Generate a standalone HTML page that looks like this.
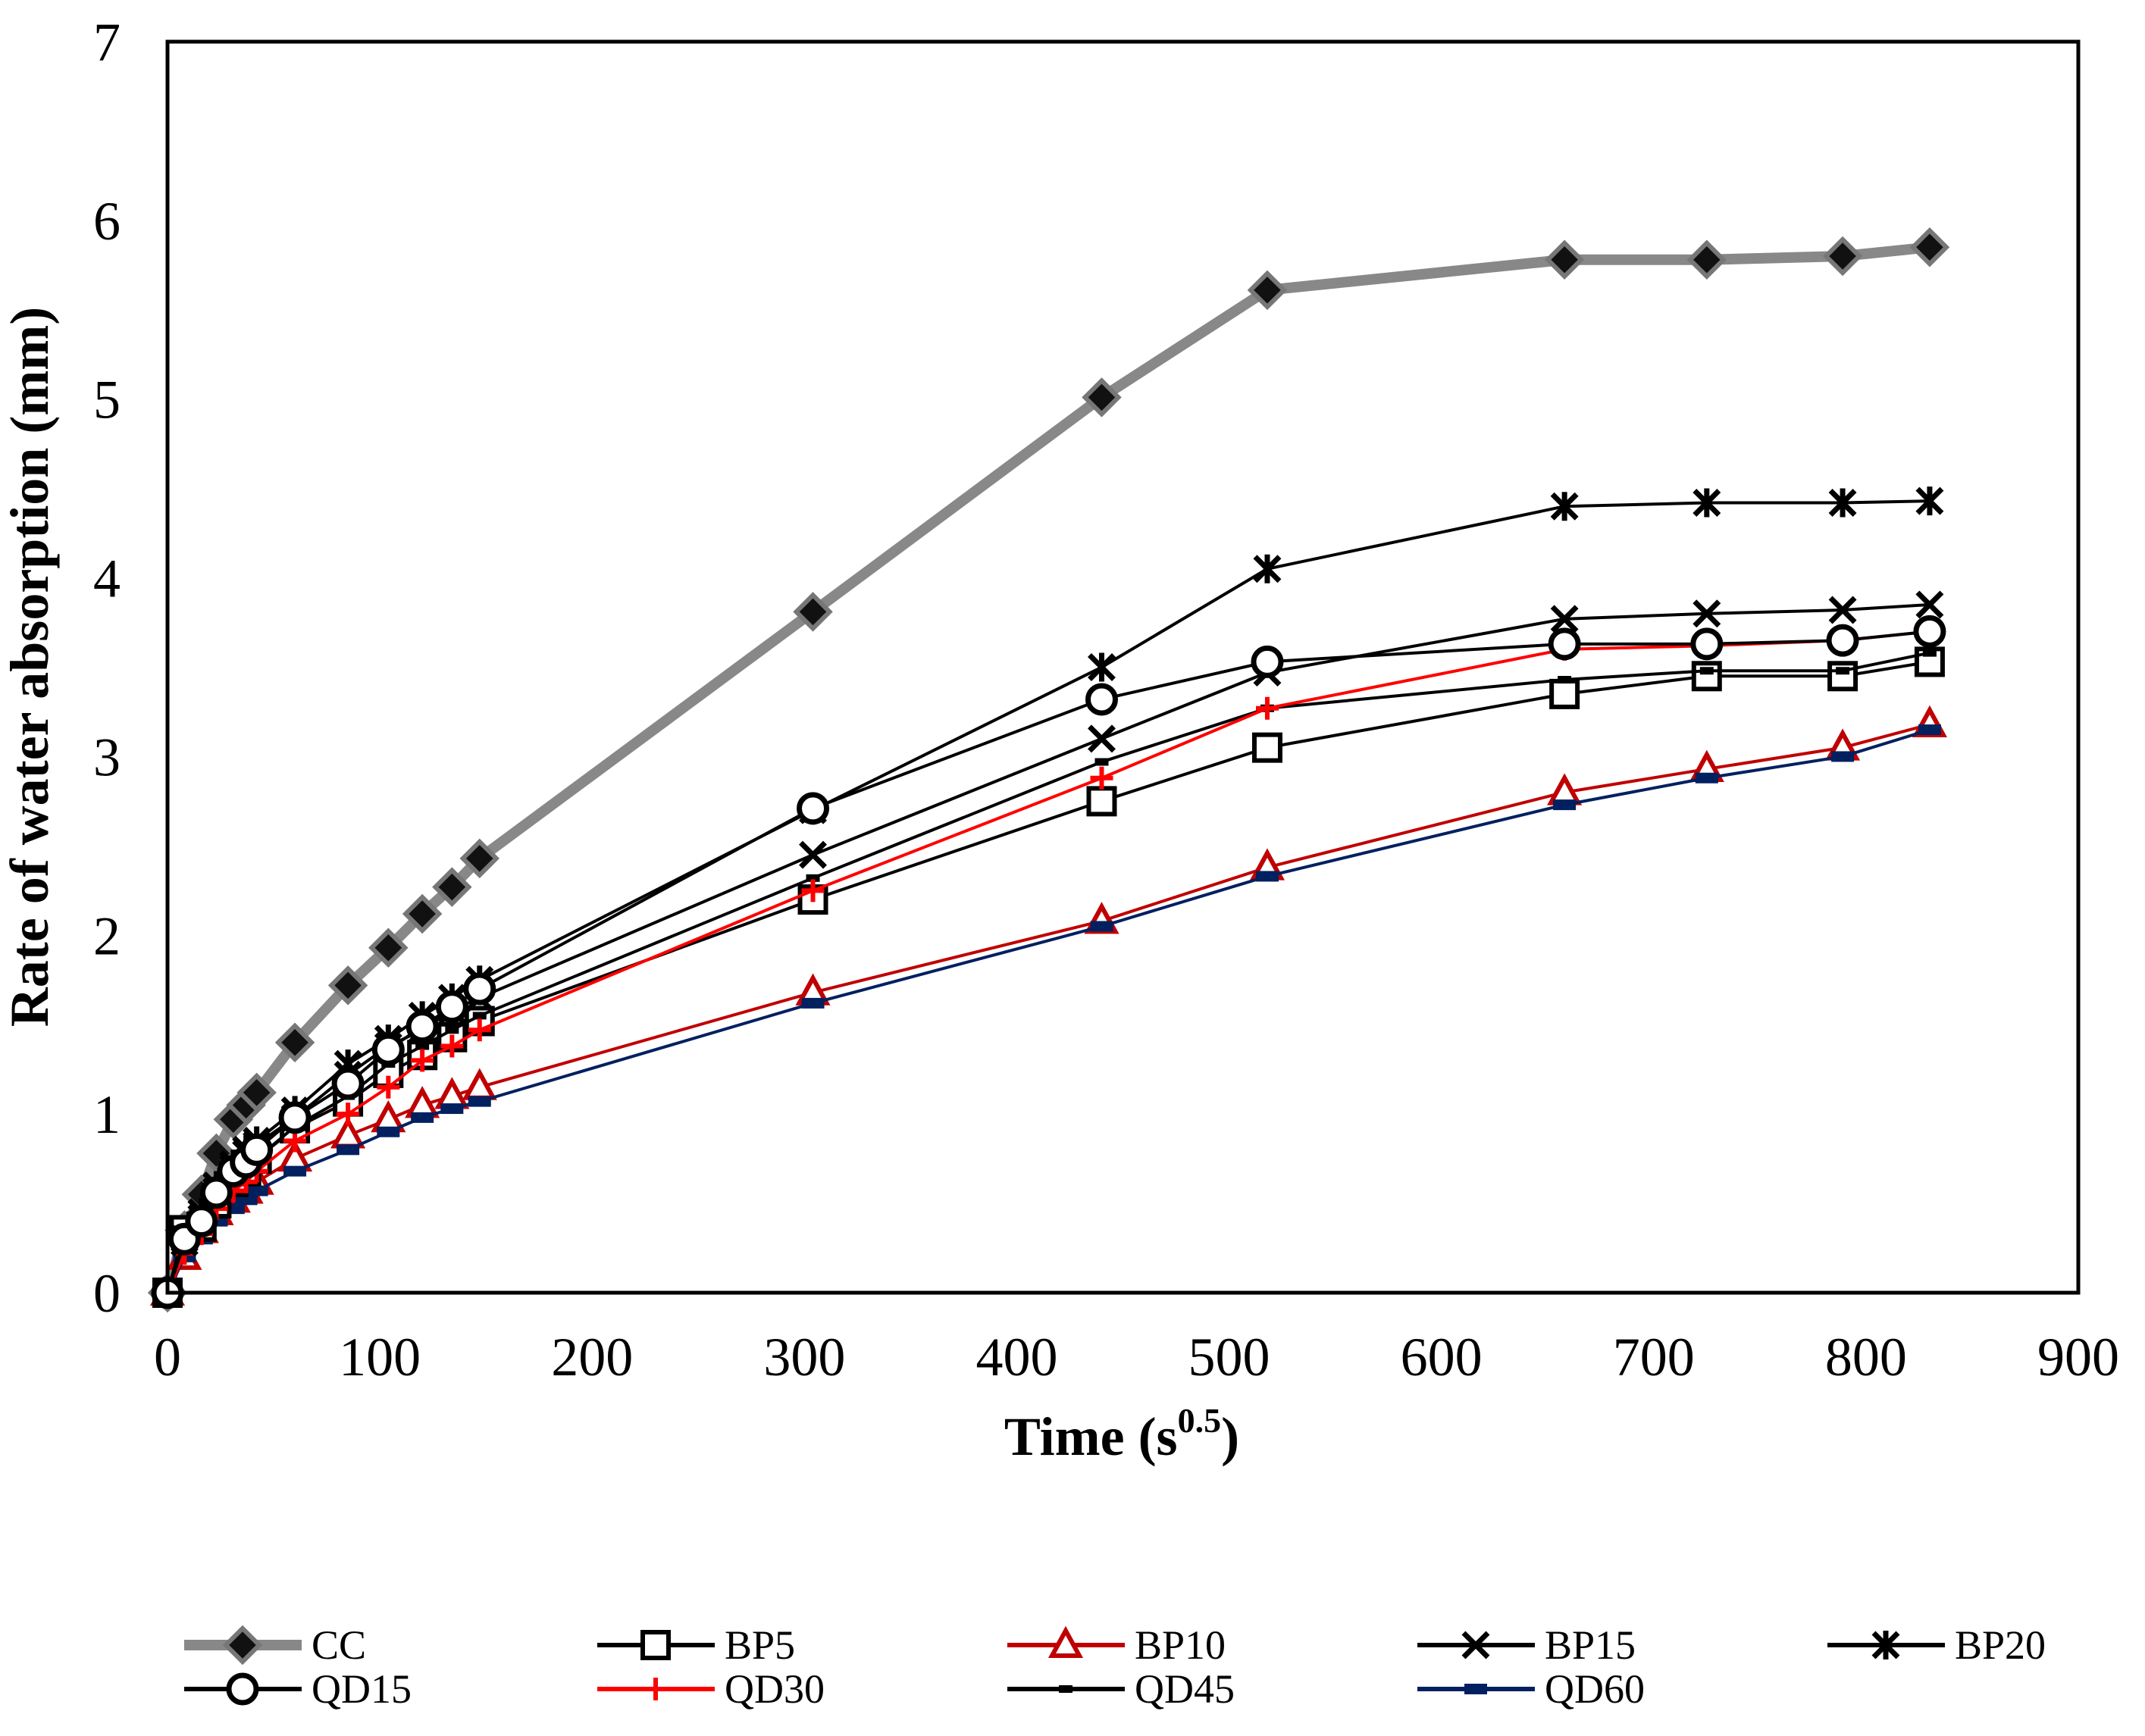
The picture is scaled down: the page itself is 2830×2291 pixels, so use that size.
<!DOCTYPE html>
<html><head><meta charset="utf-8"><style>
html,body{margin:0;padding:0;background:#fff;}
svg{display:block;font-family:"Liberation Serif",serif;}
</style></head><body>
<svg id="chart" width="2830" height="2291" viewBox="0 0 2830 2291">
<rect x="0" y="0" width="2830" height="2291" fill="#fff"/>
<g id="grid"></g>
<g id="series"></g>
<rect x="221" y="55" width="2521" height="1651" fill="none" stroke="#000" stroke-width="5"/>
<g id="ticks"></g>
<text x="63" y="880" transform="rotate(-90 63 880)" text-anchor="middle" font-size="72" font-weight="bold">Rate of water absorption (mm)</text>
<text x="1480" y="1920" text-anchor="middle" font-size="72" font-weight="bold">Time (s<tspan font-size="46" dy="-30">0.5</tspan><tspan dy="30">)</tspan></text>
<g id="legend"></g>
</svg>
<script>
const times = [0, 8, 16, 23, 31, 37, 42, 60, 85, 104, 120, 134, 147, 304, 440, 518, 658, 725, 789, 830];
const seriesNames = ["CC","BP5","BP10","BP15","BP20","QD15","QD30","QD45","QD60"];
const CC   = [0, 0.35, 0.55, 0.78, 0.97, 1.05, 1.12, 1.40, 1.72, 1.93, 2.12, 2.27, 2.43, 3.81, 5.01, 5.61, 5.78, 5.78, 5.80, 5.85];
const BP5  = [0, 0.35, 0.37, 0.50, 0.62, 0.68, 0.75, 0.92, 1.07, 1.23, 1.33, 1.43, 1.52, 2.20, 2.75, 3.05, 3.35, 3.45, 3.45, 3.53];
const BP10 = [0, 0.20, 0.35, 0.45, 0.52, 0.57, 0.62, 0.75, 0.88, 0.97, 1.05, 1.10, 1.15, 1.68, 2.08, 2.38, 2.80, 2.93, 3.05, 3.18];
const BP15 = [0, 0.28, 0.42, 0.57, 0.70, 0.78, 0.83, 0.98, 1.22, 1.38, 1.47, 1.58, 1.65, 2.45, 3.10, 3.47, 3.77, 3.80, 3.82, 3.85];
const BP20 = [0, 0.30, 0.45, 0.60, 0.72, 0.80, 0.85, 1.02, 1.28, 1.42, 1.55, 1.65, 1.75, 2.70, 3.50, 4.05, 4.40, 4.42, 4.42, 4.43];
const QD15 = [0, 0.30, 0.40, 0.56, 0.68, 0.73, 0.80, 0.98, 1.17, 1.36, 1.49, 1.60, 1.70, 2.71, 3.32, 3.53, 3.63, 3.63, 3.65, 3.70];
const QD30 = [0, 0.22, 0.33, 0.47, 0.57, 0.62, 0.68, 0.85, 1.00, 1.15, 1.30, 1.38, 1.47, 2.25, 2.88, 3.27, 3.60, 3.62, 3.65, 3.70];
const QD45 = [0, 0.30, 0.38, 0.52, 0.63, 0.70, 0.75, 0.93, 1.10, 1.28, 1.38, 1.47, 1.55, 2.32, 2.97, 3.27, 3.43, 3.48, 3.48, 3.58];
const QD60 = [0, 0.20, 0.30, 0.40, 0.47, 0.52, 0.57, 0.68, 0.80, 0.90, 0.98, 1.03, 1.07, 1.62, 2.05, 2.33, 2.73, 2.88, 3.00, 3.15];
const xTicks = [0,100,200,300,400,500,600,700,800,900];
const yTicks = [0,1,2,3,4,5,6,7];

const NS = "http://www.w3.org/2000/svg";
const X0=221, X1=2742, Y0=1706, Y1=55;
function xs(v){return X0 + v/900*(X1-X0);}
function ys(v){return Y0 - v/7*(Y0-Y1);}
function mk(tag, attrs, parent){const e=document.createElementNS(NS,tag);for(const k in attrs)e.setAttribute(k,attrs[k]);parent.appendChild(e);return e;}

const tickG=document.getElementById('ticks');
xTicks.forEach(t=>{
  const e=mk('text',{x:xs(t),y:1815,'text-anchor':'middle','font-size':72},tickG);
  e.textContent=t;
  
  
});
yTicks.forEach(t=>{
  const e=mk('text',{x:141,y:ys(t)+25,'text-anchor':'middle','font-size':72},tickG);
  e.textContent=t;
  
  
});

const styles = {
  CC:{color:'#888',w:14,m:'diamond'},
  BP5:{color:'#000',w:4,m:'square'},
  BP10:{color:'#c00000',w:4,m:'triangle'},
  BP15:{color:'#000',w:4,m:'x'},
  BP20:{color:'#000',w:4,m:'star'},
  QD15:{color:'#000',w:4,m:'circle'},
  QD30:{color:'#ff0000',w:4,m:'plus'},
  QD45:{color:'#000',w:4,m:'dash'},
  QD60:{color:'#002060',w:4,m:'bar'}
};
const dataMap={CC,BP5,BP10,BP15,BP20,QD15,QD30,QD45,QD60};

function marker(type, cx, cy, g, color){
  let e;
  if(type==='diamond'){
    e=mk('path',{d:`M${cx},${cy-22}L${cx+22},${cy}L${cx},${cy+22}L${cx-22},${cy}Z`,fill:'#111',stroke:'#777','stroke-width':6},g);
  } else if(type==='square'){
    e=mk('rect',{x:cx-17,y:cy-17,width:34,height:34,fill:'#fff',stroke:'#000','stroke-width':6},g);
  } else if(type==='triangle'){
    e=mk('path',{d:`M${cx},${cy-19}L${cx+18},${cy+14}L${cx-18},${cy+14}Z`,fill:'#fff',stroke:color,'stroke-width':6},g);
  } else if(type==='x'){
    e=mk('path',{d:`M${cx-16},${cy-16}L${cx+16},${cy+16}M${cx+16},${cy-16}L${cx-16},${cy+16}`,stroke:'#000','stroke-width':7},g);
  } else if(type==='star'){
    e=mk('path',{d:`M${cx-16},${cy-16}L${cx+16},${cy+16}M${cx+16},${cy-16}L${cx-16},${cy+16}M${cx},${cy-19}L${cx},${cy+19}`,stroke:'#000','stroke-width':7},g);
  } else if(type==='circle'){
    e=mk('circle',{cx:cx,cy:cy,r:18,fill:'#fff',stroke:'#000','stroke-width':7},g);
  } else if(type==='plus'){
    e=mk('path',{d:`M${cx-15},${cy}L${cx+15},${cy}M${cx},${cy-15}L${cx},${cy+15}`,stroke:color,'stroke-width':6},g);
  } else if(type==='dash'){
    e=mk('rect',{x:cx-9,y:cy-5,width:18,height:10,fill:'#000'},g);
  } else {
    e=mk('rect',{x:cx-15,y:cy-7,width:30,height:14,fill:color},g);
  }
  return e;
}

const sG=document.getElementById('series');
const order=["CC","BP10","QD60","BP5","QD45","QD30","BP15","BP20","QD15"];
order.forEach(name=>{
  const st=styles[name], vals=dataMap[name];
  const g=mk('g',{},sG);
  
  
  const pts=times.map((t,i)=>xs(t)+','+ys(vals[i])).join(' ');
  const pl=mk('polyline',{points:pts,fill:'none',stroke:st.color,'stroke-width':st.w,'stroke-linejoin':'round'},g);
  
  
  times.forEach((t,i)=>{
    const m=marker(st.m,xs(t),ys(vals[i]),g,st.color);
    
    
  });
});

const lG=document.getElementById('legend');
const colX=[243,788,1329,1870,2411];
const rowY=[2171,2229];
seriesNames.forEach((name,i)=>{
  const st=styles[name];
  const lx=colX[i%5], ly=rowY[Math.floor(i/5)];
  const g=mk('g',{},lG);
  
  
  mk('line',{x1:lx,y1:ly,x2:lx+155,y2:ly,stroke:st.color,'stroke-width':st.w===14?14:6},g);
  marker(st.m,lx+77,ly,g,st.color);
  const t=mk('text',{x:lx+168,y:ly+18,'font-size':54},g);
  t.textContent=name;
});
</script>
</body></html>
